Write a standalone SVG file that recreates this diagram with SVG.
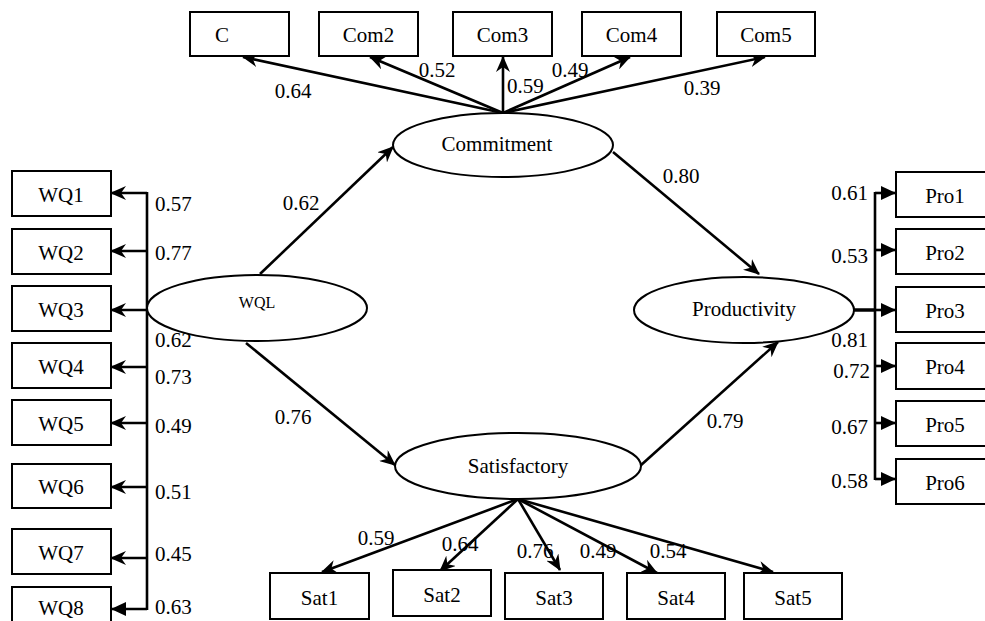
<svg xmlns="http://www.w3.org/2000/svg" width="985" height="621" viewBox="0 0 985 621" font-family="'Liberation Serif', 'Times New Roman', serif">
<style>
text{font-family:'Liberation Serif','Times New Roman',serif;font-size:21px;fill:#000}
.mid{text-anchor:middle}
.end{text-anchor:end}
.box{fill:#fff;stroke:#000;stroke-width:2}
.ell{fill:#fff;stroke:#000;stroke-width:2}
.ln{fill:none;stroke:#000;stroke-width:2.6}
.ar{fill:none;stroke:#000;stroke-width:2.6;marker-end:url(#st)}
.tr{fill:none;stroke:#000;stroke-width:2.6;marker-end:url(#tri)}
</style>
<defs>
<marker id="st" markerUnits="userSpaceOnUse" viewBox="0 0 16 14" markerWidth="16" markerHeight="14" refX="15" refY="7" orient="auto">
<path d="M0,0 L16,7 L0,14 L5,7 z" fill="#000"/>
</marker>
<marker id="tri" markerUnits="userSpaceOnUse" viewBox="0 0 15 14" markerWidth="15" markerHeight="14" refX="15" refY="7" orient="auto">
<path d="M0,0 L15,7 L0,14 z" fill="#000"/>
</marker>
</defs>
<rect width="985" height="621" fill="#fff"/>

<g id="connectors">
<line class="ar" x1="503" y1="113" x2="243" y2="57"/>
<line class="ar" x1="503" y1="113" x2="370" y2="57"/>
<line class="ar" x1="503" y1="113" x2="503" y2="57"/>
<line class="ar" x1="503" y1="113" x2="630" y2="57"/>
<line class="ar" x1="503" y1="113" x2="765" y2="57"/>
<line class="ar" x1="260" y1="274" x2="393" y2="147"/>
<line class="ar" x1="246" y1="343" x2="395" y2="465"/>
<line class="ar" x1="613" y1="152" x2="759" y2="274"/>
<line class="ar" x1="640" y1="466" x2="778" y2="342"/>
<line class="ln" x1="147" y1="192" x2="147" y2="610"/>
<line class="ar" x1="147" y1="193" x2="111" y2="193"/>
<line class="ar" x1="147" y1="251" x2="111" y2="251"/>
<line class="ar" x1="147" y1="310" x2="111" y2="310"/>
<line class="ar" x1="147" y1="367" x2="111" y2="367"/>
<line class="ar" x1="147" y1="423" x2="111" y2="423"/>
<line class="ar" x1="147" y1="487" x2="111" y2="487"/>
<line class="ar" x1="147" y1="558" x2="111" y2="558"/>
<line class="tr" x1="147" y1="609" x2="111" y2="609"/>
<line class="ln" x1="853" y1="310" x2="876" y2="310" style="stroke-width:3.5"/>
<line class="ln" x1="875" y1="192" x2="875" y2="480"/>
<line class="tr" x1="875" y1="193" x2="896" y2="193"/>
<line class="tr" x1="875" y1="250" x2="896" y2="250"/>
<line class="tr" x1="875" y1="310" x2="896" y2="310"/>
<line class="tr" x1="875" y1="366" x2="896" y2="366"/>
<line class="tr" x1="875" y1="423" x2="896" y2="423"/>
<line class="tr" x1="875" y1="479" x2="896" y2="479"/>
<line class="ar" x1="518" y1="499" x2="322" y2="572"/>
<line class="ar" x1="518" y1="499" x2="440" y2="571"/>
<line class="ar" x1="518" y1="499" x2="560" y2="570"/>
<line class="ar" x1="518" y1="499" x2="657" y2="573"/>
<line class="ar" x1="518" y1="499" x2="773" y2="572"/>
</g>

<g id="labels">
<text class="mid" x="293" y="98">0.64</text>
<text class="mid" x="437" y="77">0.52</text>
<text x="507" y="93">0.59</text>
<text class="mid" x="570" y="77">0.49</text>
<text class="mid" x="702" y="95">0.39</text>
<text class="mid" x="301" y="210">0.62</text>
<text class="mid" x="293" y="424">0.76</text>
<text class="mid" x="681" y="183">0.80</text>
<text class="mid" x="725" y="428">0.79</text>
<text x="155" y="211">0.57</text>
<text x="155" y="260">0.77</text>
<text x="155" y="347">0.62</text>
<text x="155" y="384">0.73</text>
<text x="155" y="433">0.49</text>
<text x="155" y="499">0.51</text>
<text x="155" y="561">0.45</text>
<text x="155" y="614">0.63</text>
<text class="end" x="868" y="200">0.61</text>
<text class="end" x="868" y="263">0.53</text>
<text class="end" x="868" y="347">0.81</text>
<text class="end" x="870" y="378">0.72</text>
<text class="end" x="868" y="434">0.67</text>
<text class="end" x="868" y="488">0.58</text>
<text class="mid" x="376" y="545">0.59</text>
<text class="mid" x="460" y="551">0.64</text>
<text class="mid" x="535" y="558">0.76</text>
<text class="mid" x="598" y="558">0.49</text>
<text class="mid" x="668" y="558">0.54</text>
</g>

<g id="commitment"><ellipse class="ell" cx="503" cy="145" rx="110" ry="32"/><text class="mid" x="497" y="151">Commitment</text></g>
<g id="wql"><ellipse class="ell" cx="257" cy="308" rx="110" ry="33"/><text class="mid" x="257" y="308" style="font-size:16px">WQL</text></g>
<g id="productivity"><ellipse class="ell" cx="744" cy="310" rx="110" ry="33"/><text class="mid" x="744" y="316">Productivity</text></g>
<g id="satisfactory"><ellipse class="ell" cx="518" cy="466" rx="123" ry="33"/><text class="mid" x="518" y="473">Satisfactory</text></g>

<g id="c1"><rect class="box" x="190" y="12" width="99" height="44"/><text x="215" y="42">C</text></g>
<g id="com2"><rect class="box" x="319" y="12" width="99" height="44"/><text class="mid" x="368.5" y="42">Com2</text></g>
<g id="com3"><rect class="box" x="453" y="12" width="99" height="44"/><text class="mid" x="502.5" y="42">Com3</text></g>
<g id="com4"><rect class="box" x="582" y="12" width="99" height="44"/><text class="mid" x="631.5" y="42">Com4</text></g>
<g id="com5"><rect class="box" x="717" y="12" width="98" height="44"/><text class="mid" x="766" y="42">Com5</text></g>

<g id="wq1"><rect class="box" x="12" y="171" width="99" height="45"/><text class="mid" x="61" y="202">WQ1</text></g>
<g id="wq2"><rect class="box" x="12" y="229" width="99" height="45"/><text class="mid" x="61" y="260">WQ2</text></g>
<g id="wq3"><rect class="box" x="12" y="286" width="99" height="45"/><text class="mid" x="61" y="317">WQ3</text></g>
<g id="wq4"><rect class="box" x="12" y="343" width="99" height="45"/><text class="mid" x="61" y="374">WQ4</text></g>
<g id="wq5"><rect class="box" x="12" y="400" width="99" height="45"/><text class="mid" x="61" y="431">WQ5</text></g>
<g id="wq6"><rect class="box" x="12" y="464" width="99" height="44"/><text class="mid" x="61" y="494">WQ6</text></g>
<g id="wq7"><rect class="box" x="12" y="529" width="99" height="45"/><text class="mid" x="61" y="560">WQ7</text></g>
<g id="wq8"><rect class="box" x="12" y="587" width="99" height="45"/><text class="mid" x="61" y="615">WQ8</text></g>

<g id="pro1"><rect class="box" x="896" y="172" width="99" height="45"/><text class="mid" x="945" y="203">Pro1</text></g>
<g id="pro2"><rect class="box" x="896" y="229" width="99" height="45"/><text class="mid" x="945" y="260">Pro2</text></g>
<g id="pro3"><rect class="box" x="896" y="287" width="99" height="45"/><text class="mid" x="945" y="318">Pro3</text></g>
<g id="pro4"><rect class="box" x="896" y="343" width="99" height="46"/><text class="mid" x="945" y="374">Pro4</text></g>
<g id="pro5"><rect class="box" x="896" y="401" width="99" height="45"/><text class="mid" x="945" y="432">Pro5</text></g>
<g id="pro6"><rect class="box" x="896" y="459" width="99" height="45"/><text class="mid" x="945" y="490">Pro6</text></g>

<g id="sat1"><rect class="box" x="270" y="573" width="99" height="46"/><text class="mid" x="319.5" y="605">Sat1</text></g>
<g id="sat2"><rect class="box" x="393" y="570" width="98" height="46"/><text class="mid" x="442" y="602">Sat2</text></g>
<g id="sat3"><rect class="box" x="505" y="573" width="98" height="46"/><text class="mid" x="554" y="605">Sat3</text></g>
<g id="sat4"><rect class="box" x="627" y="573" width="98" height="46"/><text class="mid" x="676" y="605">Sat4</text></g>
<g id="sat5"><rect class="box" x="744" y="573" width="98" height="46"/><text class="mid" x="793" y="605">Sat5</text></g>
</svg>
